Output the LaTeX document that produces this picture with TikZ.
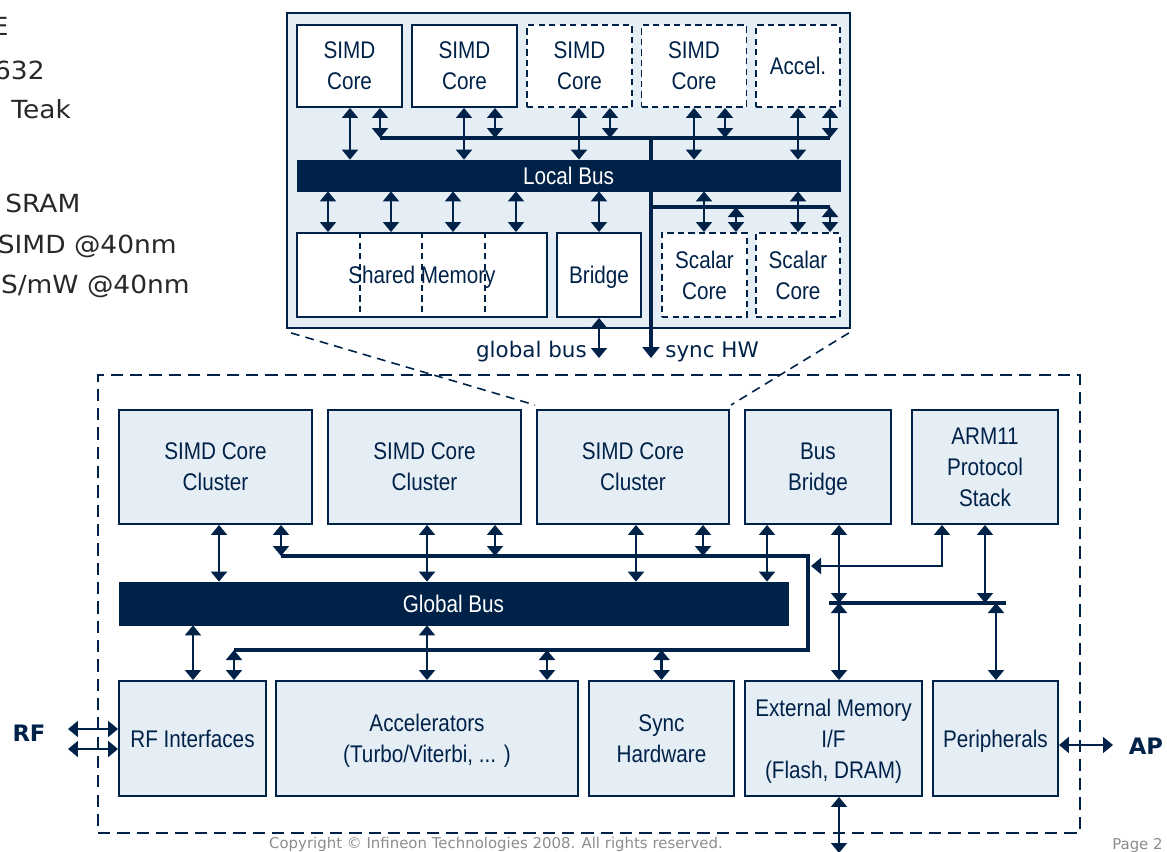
\documentclass[tikz,border=0pt]{standalone}
\usepackage{fontspec}
\setmainfont{DejaVu Sans}
\newfontfamily\narrowfont[FakeStretch=0.86]{Liberation Sans}
\newfontfamily\slidefont[FakeStretch=1.06]{DejaVu Sans}
\usepackage{xcolor}
\usepackage{tikz}
\usetikzlibrary{arrows.meta,positioning}

\definecolor{ifxnavy}{RGB}{0,34,72}
\definecolor{ifxpale}{RGB}{229,237,245}
\definecolor{ifxgray}{RGB}{140,140,140}
\definecolor{slidetext}{RGB}{40,40,40}

\begin{document}
\begin{tikzpicture}[x=0.02cm, y=-0.02cm,
  box/.style={draw=ifxnavy, line width=1.1pt, fill=ifxpale, align=center, inner sep=0pt,
    text depth=0pt, text=ifxnavy, font=\narrowfont\fontsize{13.7}{17.6}\selectfont},
  cluster/.style={box, minimum width=3.86cm, minimum height=2.28cm},
  unit/.style={box, minimum height=2.30cm},
  core/.style={box, fill=white, minimum width=2.1cm, minimum height=1.64cm},
  spare/.style={core, dash pattern=on 3.6pt off 2.4pt},
  busbar/.style={draw=ifxnavy, fill=ifxnavy, inner sep=0pt, text=white,
    font=\narrowfont\fontsize{13.7}{17.6}\selectfont},
  link/.style={{Triangle[length=2mm,width=3.2mm]}-{Triangle[length=2mm,width=3.2mm]},
    draw=ifxnavy, line width=1.1pt},
  wire/.style={draw=ifxnavy, line width=2.3pt},
  frame/.style={draw=ifxnavy, line width=1.1pt, dash pattern=on 7pt off 4pt},
  zoomline/.style={draw=ifxnavy, line width=0.9pt, dash pattern=on 5pt off 3.5pt},
  note/.style={inner sep=0pt, text=slidetext, font=\slidefont\fontsize{14.2}{17}\selectfont},
  tag/.style={inner sep=0pt, text=ifxnavy, font=\fontsize{12.2}{15}\selectfont},
  port/.style={inner sep=0pt, text=ifxnavy, font=\bfseries\fontsize{12.9}{15}\selectfont},
  foot/.style={inner sep=0pt, text=ifxgray, font=\fontsize{8.5}{10}\selectfont}
]
\useasboundingbox (0,0) rectangle (1167,852);

% slide text cut off at the left
\begin{scope}
\clip (0,0) rectangle (282,330);
\node[note, anchor=base east] (t1) at (9,35) {E};
\node[note, anchor=base east] (t2) at (45,79) {632};
\node[note, anchor=base west] (t3) at (11,118) {Teak};
\node[note, anchor=base west] (t4) at (5,212) {SRAM};
\node[note, anchor=base east] (t5) at (177,253) {SIMD @40nm};
\node[note, anchor=base east] (t6) at (190,293) {S/mW @40nm};
\end{scope}

% chip outline
\node[frame, minimum width=19.64cm, minimum height=9.16cm] (chip) at (589,604) {};

% cluster detail
\node[box, minimum width=11.26cm, minimum height=6.30cm] (cpanel) at (568.5,170.5) {};
\node[core] (core1) at (349.5,66) {SIMD\\Core};
\node[core] (core2) at (464.5,66) {SIMD\\Core};
\node[spare] (core3) at (579.5,66) {SIMD\\Core};
\node[spare] (core4) at (694,66) {SIMD\\Core};
\node[spare, minimum width=1.68cm] (accel) at (798,66) {Accel.};

\coordinate (tsyncL) at (380,138);
\coordinate (tsyncR) at (830,138);
\coordinate (tsyncT) at (651,138);
\coordinate (tbranch) at (830,207);
\coordinate (synchwport) at (651,358);
\coordinate (gbport) at (599,358);
\draw[wire] (tsyncL) -- (tsyncR);
\draw[wire] (tsyncT |- tbranch) -- (tbranch);
\draw[wire, -{Triangle[length=2.2mm,width=3.4mm]}] (tsyncT) -- (synchwport);

\node[busbar, minimum width=10.86cm, minimum height=0.62cm] (lbus) at (568.5,175.5) {Local Bus};

\node[core, minimum width=5.0cm, minimum height=1.68cm] (shmem) at (422,275) {Shared Memory};
\foreach \x in {360,422,485}
  \draw[ifxnavy, line width=0.9pt, dash pattern=on 3.6pt off 2.4pt] (shmem.north -| \x,0) -- (shmem.south -| \x,0);
\node[core, minimum width=1.68cm, minimum height=1.68cm] (bridge) at (599,275) {Bridge};
\node[spare, minimum width=1.70cm, minimum height=1.68cm] (scal1) at (704.5,275) {Scalar\\Core};
\node[spare, minimum width=1.68cm, minimum height=1.68cm] (scal2) at (798,275) {Scalar\\Core};

\foreach \n/\x in {core1/350, core2/464, core3/579, core4/694, accel/798}
  \draw[link] (\n.south -| \x,0) -- (lbus.north -| \x,0);
\foreach \n/\x in {core1/380, core2/495, core3/610, core4/725, accel/830}
  \draw[link] (\n.south -| \x,0) -- (tsyncL -| \x,0);
\foreach \x in {328,391,453,516}
  \draw[link] (lbus.south -| \x,0) -- (shmem.north -| \x,0);
\draw[link] (lbus.south -| bridge) -- (bridge.north);
\foreach \n/\x in {scal1/704, scal2/798}
  \draw[link] (lbus.south -| \x,0) -- (\n.north -| \x,0);
\foreach \n/\x in {scal1/736, scal2/830}
  \draw[link] (tbranch -| \x,0) -- (\n.north -| \x,0);
\draw[link] (bridge.south) -- (gbport);
\node[tag, anchor=base east] (gblabel) at (587,357) {global bus};
\node[tag, anchor=base west] (synclabel) at (665,357) {sync HW};

% zoom lines
\draw[zoomline] ([shift={(5,4)}]cpanel.south west) -- (535,405);
\draw[zoomline] ([shift={(-2,4)}]cpanel.south east) -- (731,405);

% chip blocks
\node[cluster] (clus1) at (215.5,467) {SIMD Core\\Cluster};
\node[cluster] (clus2) at (424.5,467) {SIMD Core\\Cluster};
\node[cluster, minimum width=3.84cm] (clus3) at (633,467) {SIMD Core\\Cluster};
\node[cluster, minimum width=2.92cm] (bbridge) at (818,467) {Bus\\Bridge};
\node[cluster, minimum width=2.92cm] (arm) at (985,467) {ARM11\\Protocol\\Stack};

\node[busbar, minimum width=13.38cm, minimum height=0.86cm] (gbus) at (453.5,603.5) {Global Bus};

\node[unit, minimum width=2.94cm] (rfif) at (192.5,738.5) {RF Interfaces};
\node[unit, minimum width=6.04cm] (turbo) at (427,738.5) {Accelerators\\(Turbo/Viterbi, ... )};
\node[unit, minimum width=2.90cm] (synchw) at (661.5,738.5) {Sync\\Hardware};
\node[unit, minimum width=3.54cm] (extmem) at (833.5,738.5) {External Memory\\I/F\\(Flash, DRAM)};
\node[unit, minimum width=2.50cm] (periph) at (995.5,738.5) {Peripherals};

% sync loop
\coordinate (lsync1) at (281,556);
\coordinate (lsync2) at (808,556);
\coordinate (lsync3) at (808,650);
\coordinate (lsync4) at (234,650);
\coordinate (armtap) at (811,566);
\draw[wire, line join=miter] (lsync1) -- (lsync2) -- (lsync3) -- (lsync4);

\foreach \n/\x in {clus1/219, clus2/427, clus3/636, bbridge/767}
  \draw[link] (\n.south -| \x,0) -- (gbus.north -| \x,0);
\foreach \n/\x in {clus1/281, clus2/495, clus3/703}
  \draw[link] (\n.south -| \x,0) -- (lsync1 -| \x,0);
\draw[link] (arm.south -| 942,0) |- (armtap);
\foreach \n/\x in {rfif/193, turbo/427}
  \draw[link] (gbus.south -| \x,0) -- (\n.north -| \x,0);
\foreach \n/\x in {rfif/234, turbo/547}
  \draw[link] (lsync4 -| \x,0) -- (\n.north -| \x,0);
\draw[link, line width=2pt] (lsync4 -| synchw) -- (synchw.north);

% peripheral bus
\coordinate (pbusL) at (829,603);
\coordinate (pbusR) at (1006,603);
\draw[wire] (pbusL) -- (pbusR);
\draw[link] (bbridge.south -| 839,0) -- (pbusL -| 839,0);
\draw[link] (arm.south -| 985,0) -- (pbusL -| 985,0);
\draw[link] (pbusL -| 839,0) -- (extmem.north -| 839,0);
\draw[link] (pbusL -| 996,0) -- (periph.north -| 996,0);

% external ports
\coordinate (memport) at (839,853);
\coordinate (rfA) at (68,729);
\coordinate (rfB) at (68,749);
\coordinate (apport) at (1113,745);
\draw[link] (extmem.south -| memport) -- (memport);
\draw[link] (rfA) -- (rfif.west |- rfA);
\draw[link] (rfB) -- (rfif.west |- rfB);
\draw[link] (periph.east |- apport) -- (apport);
\node[port] (rflabel) at (29,733) {RF};
\node[port] (aplabel) at (1146,746) {AP};

\node[foot, anchor=base] (copy) at (496,848) {Copyright © Infineon Technologies 2008. All rights reserved.};
\node[foot, anchor=base east] (page) at (1163,849) {Page 2};
\end{tikzpicture}
\end{document}
